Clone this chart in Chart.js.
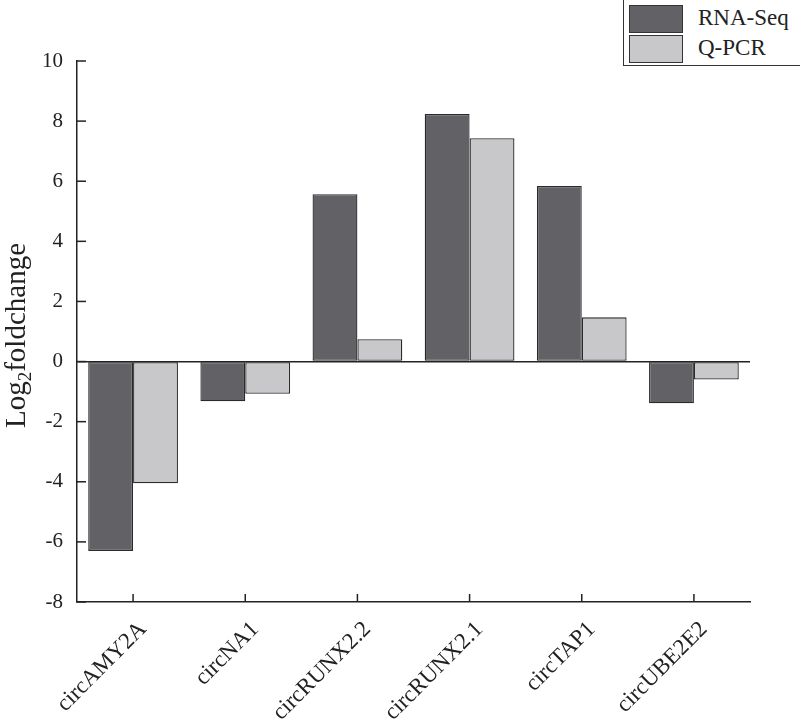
<!DOCTYPE html>
<html>
<head>
<meta charset="utf-8">
<script src="https://cdn.jsdelivr.net/npm/chart.js@4"></script>
<style>
  html, body { margin: 0; padding: 0; background: #fff; }
  #wrap { position: relative; width: 800px; height: 727px; }
  #legend { position: absolute; left: 623px; top: -1px; width: 185px; height: 67px; border: 1px solid #333; box-sizing: border-box; background: #fff; }
  .item { position: absolute; left: 5px; height: 28px; width: 180px; }
  .sw { position: absolute; left: 0; top: 0; width: 54px; height: 28px; border: 1px solid #333; box-sizing: border-box; }
  .lt { position: absolute; left: 69px; top: -1px; font-family: "Liberation Serif", serif; font-size: 23px; line-height: 28px; color: #222; white-space: nowrap; }
</style>
</head>
<body>
<div id="wrap">
  <canvas id="c" width="800" height="727"></canvas>
  <div id="legend"></div>
</div>
<script>
const categories = ['circAMY2A', 'circNA1', 'circRUNX2.2', 'circRUNX2.1', 'circTAP1', 'circUBE2E2'];
const rnaSeq = [-6.3, -1.32, 5.57, 8.24, 5.84, -1.39];
const qpcr = [-4.05, -1.07, 0.74, 7.43, 1.47, -0.6];
const seriesNames = ['RNA-Seq', 'Q-PCR'];
const seriesColors = ['#626266', '#c8c8ca'];
const yMin = -8, yMax = 10, yStep = 2;

const inwardTicks = {
  id: 'inwardTicks',
  afterDraw(chart) {
    const ctx = chart.ctx, ca = chart.chartArea;
    const xs = chart.scales.x, ys = chart.scales.y;
    ctx.save();
    ctx.strokeStyle = '#222';
    ctx.lineWidth = 1.5;
    ys.ticks.forEach((t, i) => {
      const y = ys.getPixelForTick(i);
      ctx.beginPath(); ctx.moveTo(ca.left, y); ctx.lineTo(ca.left + 9, y); ctx.stroke();
    });
    xs.ticks.forEach((t, i) => {
      const x = xs.getPixelForTick(i);
      ctx.beginPath(); ctx.moveTo(x, ca.bottom); ctx.lineTo(x, ca.bottom - 8); ctx.stroke();
    });
    // y title with subscript
    const cy = (ca.top + ca.bottom) / 2 + 4;
    ctx.translate(25, cy);
    ctx.rotate(-Math.PI / 2);
    ctx.fillStyle = '#222';
    ctx.textBaseline = 'alphabetic';
    const big = '29px "Liberation Serif", serif', small = '19px "Liberation Serif", serif';
    ctx.font = big; const w1 = ctx.measureText('Log').width;
    const w3 = ctx.measureText('foldchange').width;
    ctx.font = small; const w2 = ctx.measureText('2').width;
    let x0 = -(w1 + w2 + w3) / 2;
    ctx.font = big; ctx.textAlign = 'left';
    ctx.fillText('Log', x0, 0);
    ctx.font = small; ctx.fillText('2', x0 + w1, 6);
    ctx.font = big; ctx.fillText('foldchange', x0 + w1 + w2, 0);
    ctx.restore();
  }
};

const chart = new Chart(document.getElementById('c'), {
  type: 'bar',
  data: {
    labels: categories,
    datasets: [
      { label: seriesNames[0], data: rnaSeq, backgroundColor: seriesColors[0], borderColor: '#2a2a2a', borderWidth: 1.3, borderSkipped: false },
      { label: seriesNames[1], data: qpcr, backgroundColor: seriesColors[1], borderColor: '#2a2a2a', borderWidth: 1.3, borderSkipped: false }
    ]
  },
  options: {
    responsive: false,
    animation: false,
    layout: { padding: { top: 61, right: 50, left: 0, bottom: 0 } },
    datasets: { bar: { categoryPercentage: 0.8, barPercentage: 1.0 } },
    plugins: { legend: { display: false }, tooltip: { enabled: false } },
    scales: {
      x: {
        grid: { display: true, drawOnChartArea: false, drawTicks: false },
        border: { display: true, color: '#222', width: 1.5 },
        ticks: { color: '#222', font: { family: '"Liberation Serif", serif', size: 23 }, maxRotation: 45, minRotation: 45, padding: 14, labelOffset: 10 },
        afterFit(s) { s.height = 125; }
      },
      y: {
        min: yMin, max: yMax,
        grid: {
          drawTicks: false,
          color: (c) => (c.tick && c.tick.value === 0 ? '#222' : 'rgba(0,0,0,0)'),
          lineWidth: 1.5
        },
        border: { display: true, color: '#222', width: 1.5 },
        ticks: { stepSize: yStep, color: '#222', font: { family: '"Liberation Serif", serif', size: 21 }, padding: 14 },
        afterFit(s) { s.width = 77; }
      }
    }
  },
  plugins: [inwardTicks]
});

const lg = document.getElementById('legend');
seriesNames.forEach((n, i) => {
  const it = document.createElement('div');
  it.className = 'item';
  it.style.top = (i === 0 ? 5 : 35) + 'px';
  it.innerHTML = '<div class="sw" style="background:' + seriesColors[i] + '"></div><div class="lt">' + n + '</div>';
  lg.appendChild(it);
});
</script>
</body>
</html>
